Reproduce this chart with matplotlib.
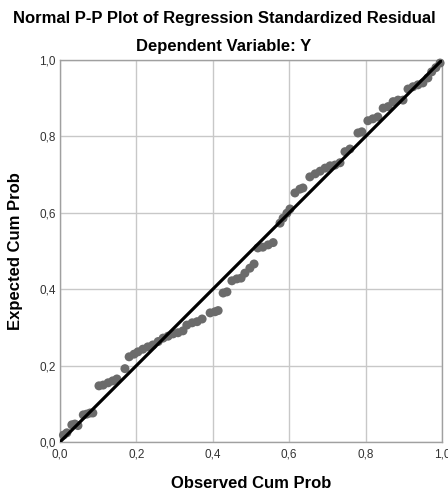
import matplotlib
matplotlib.use("Agg")
import matplotlib.pyplot as plt

# pixel-read points converted to probabilities
obs_px = [63.3, 66.7, 71.7, 75, 78, 83.3, 86.7, 90, 93, 99, 103, 108, 112.7, 117, 125,
          129, 134, 138, 143, 148, 153, 158, 163, 168, 173, 178, 183, 187, 192, 197, 202,
          210, 215, 218, 223, 227, 232, 237, 241, 245, 250, 254, 258, 263, 268, 273,
          280, 283, 287, 290, 295, 300, 303, 310, 315, 320, 325, 330, 335, 340, 345,
          350, 358, 361.7, 368, 373, 378, 383, 388, 393, 398, 403, 408, 413, 418, 423,
          428, 431.7, 436, 440]
exp_px = [435, 433, 425, 424, 425.7, 415, 414, 413, 413, 385.7, 385, 382.7, 380.7, 379, 368.7,
          357, 354, 351.7, 349, 347, 345, 341.7, 338, 336, 334, 332.7, 330.7, 325, 323, 321.7, 319,
          313, 311.7, 310.7, 293, 292, 280.7, 279, 278, 273, 268, 264, 248, 247, 245, 242.7,
          223, 218, 213, 209, 193, 189, 188, 177, 174, 171, 168, 166, 165, 162.7, 151.7,
          149, 133, 132, 120.7, 119, 117, 108, 106.7, 101.7, 100, 100, 89, 86.7, 85, 83,
          78, 71.7, 67.7, 63]
observed = [round((p - 60) / 382, 3) for p in obs_px]
expected = [round((442 - p) / 382, 3) for p in exp_px]

ticks = [0.0, 0.2, 0.4, 0.6, 0.8, 1.0]
tick_labels = ["0,0", "0,2", "0,4", "0,6", "0,8", "1,0"]

plt.rcParams['font.family'] = ['Liberation Sans', 'DejaVu Sans']

fig = plt.figure(figsize=(4.48, 4.95), dpi=100)
ax = fig.add_axes([60/448, 53/495, 382/448, 382/495])

ax.set_xlim(0, 1)
ax.set_ylim(0, 1)
ax.set_xticks(ticks)
ax.set_yticks(ticks)
ax.set_xticklabels(tick_labels)
ax.set_yticklabels(tick_labels)
ax.grid(True, color="#c8c8c8", linewidth=1.0)
ax.set_axisbelow(True)
for s in ax.spines.values():
    s.set_color("#a0a0a0")
    s.set_linewidth(1.0)
ax.tick_params(length=0, labelsize=8.5, colors="#333333")
ax.tick_params(axis="x", pad=5)
ax.tick_params(axis="y", pad=3)

ax.scatter(observed, expected, s=42, color="#6b6b6b", edgecolors="none", zorder=3, clip_on=False)
ax.plot([0, 1], [0, 1], color="black", linewidth=2.3, zorder=4, solid_capstyle="butt")

fig.text(0.5, 1 - 18/495, "Normal P-P Plot of Regression Standardized Residual",
         ha="center", va="center", fontsize=12, fontweight="bold")
fig.text(0.5, 1 - 47/495, "Dependent Variable: Y",
         ha="center", va="center", fontsize=12, fontweight="bold")
fig.text((60 + 191) / 448, 1 - 484/495, "Observed Cum Prob",
         ha="center", va="center", fontsize=12, fontweight="bold")
fig.text(16/448, 1 - 251/495, "Expected Cum Prob", rotation=90,
         ha="center", va="center", fontsize=12, fontweight="bold")

fig.savefig("out.png", dpi=100)
